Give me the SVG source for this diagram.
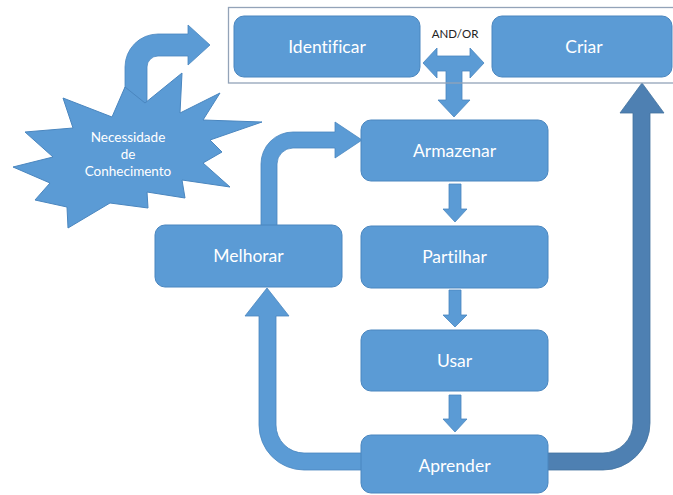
<svg xmlns="http://www.w3.org/2000/svg" width="673" height="495" viewBox="0 0 673 495">
<style>
.box{fill:#5b9bd5;stroke:#4a86bf;stroke-width:1}
.arr{fill:#5b9bd5;stroke:#4a86bf;stroke-width:0.8}
.dark{fill:#4e80b2;stroke:#43729f;stroke-width:0.8}
text{font-variant-ligatures:none}
.lbl{font-family:Lato,"Liberation Sans",sans-serif;font-size:17.5px;fill:#ffffff;text-anchor:middle}
.star{font-family:Lato,"Liberation Sans",sans-serif;font-size:13.5px;fill:#ffffff;text-anchor:middle}
.small{font-family:Lato,"Liberation Sans",sans-serif;font-size:11.5px;fill:#222222;text-anchor:middle}
</style>
<rect width="673" height="495" fill="#ffffff"/>
<g id="connectors">
<path class="arr" d="M125,112 L125,67 A33,33 0 0 1 158,34 L188,34 L188,25 L210,45 L188,65 L188,56 L158,56 A11,11 0 0 0 147,67 L147,112 Z"/>
<path class="arr" d="M261,226 L261,164 A32,32 0 0 1 293,132 L335,132 L335,122 L362,140 L335,158 L335,148 L293,148 A16,16 0 0 0 277,164 L277,226 Z"/>
<path class="arr" d="M362,453 L304,453 A28,28 0 0 1 276,425 L276,316 L289,316 L267,288 L245,316 L259,316 L259,425 A45,45 0 0 0 304,470 L362,470 Z"/>
<path class="dark" d="M547,453 L603,453 A30,30 0 0 0 633,423 L633,113 L620,113 L642,83 L664,113 L650,113 L650,423 A47,47 0 0 1 603,470 L547,470 Z"/>
<path class="arr" d="M423,63 L437,48 L437,56 L470,56 L470,48 L484,63 L470,78 L470,71 L462,71 L462,100 L470,100 L454,117 L438,100 L446,100 L446,71 L437,71 L437,78 Z"/>
<path class="arr" d="M449,184 L461,184 L461,209 L467,209 L455,222 L443,209 L449,209 Z"/>
<path class="arr" d="M449,290 L461,290 L461,315 L467,315 L455,327 L443,315 L449,315 Z"/>
<path class="arr" d="M449,395 L461,395 L461,419 L467,419 L455,432 L443,419 L449,419 Z"/>
</g>
<g id="frame">
<rect x="228.5" y="7.5" width="460" height="75.5" fill="none" stroke="#93a3b8" stroke-width="1.3"/>
<text class="small" x="455" y="38">AND/OR</text>
</g>
<g id="necessidade">
<path class="box" d="M63,98 L112,117 L125,87 L145,103 L182,73 L180,113 L220,93 L203,120 L262,122 L210,140 L222,152 L203,163 L230,187 L182,180 L185,198 L147,192 L148,208 L110,203 L68,228 L67,207 L35,200 L50,183 L13,167 L53,157 L25,132 L73,128 Z"/>
<text class="star" x="128" y="142">Necessidade</text>
<text class="star" x="128" y="159">de</text>
<text class="star" x="128" y="176">Conhecimento</text>
</g>
<g id="identificar">
<rect class="box" x="234" y="16" width="186" height="61" rx="10"/>
<text class="lbl" x="327" y="53">Identificar</text>
</g>
<g id="criar">
<rect class="box" x="492" y="16" width="180" height="61" rx="10"/>
<text class="lbl" x="584" y="53">Criar</text>
</g>
<g id="armazenar">
<rect class="box" x="361" y="120" width="187" height="61" rx="10"/>
<text class="lbl" x="454.5" y="157">Armazenar</text>
</g>
<g id="partilhar">
<rect class="box" x="361" y="226" width="187" height="62" rx="10"/>
<text class="lbl" x="454.5" y="263">Partilhar</text>
</g>
<g id="usar">
<rect class="box" x="361" y="330" width="187" height="61" rx="10"/>
<text class="lbl" x="454.5" y="367">Usar</text>
</g>
<g id="aprender">
<rect class="box" x="361" y="435" width="187" height="58" rx="10"/>
<text class="lbl" x="454.5" y="472">Aprender</text>
</g>
<g id="melhorar">
<rect class="box" x="155" y="225" width="187" height="62" rx="10"/>
<text class="lbl" x="248.5" y="262">Melhorar</text>
</g>
</svg>
